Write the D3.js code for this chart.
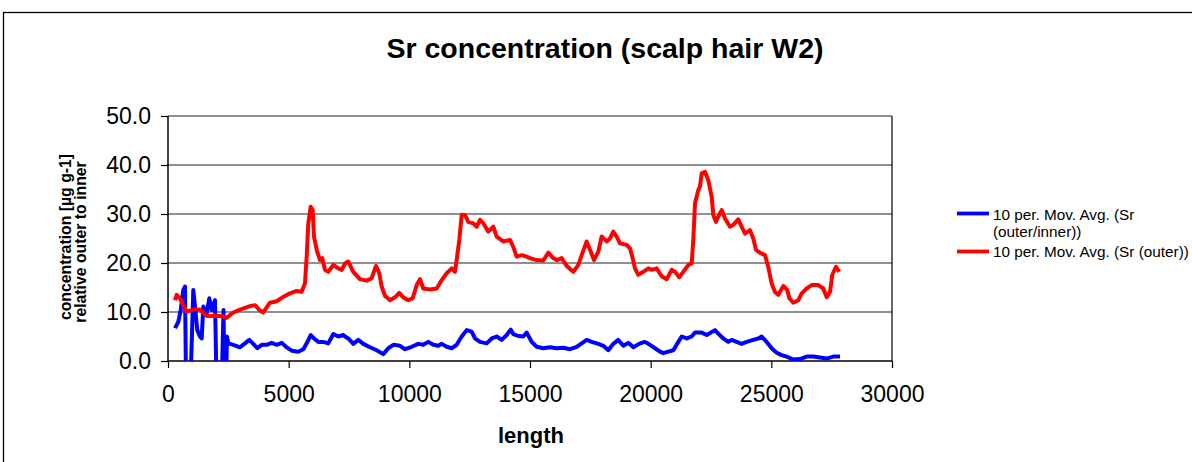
<!DOCTYPE html>
<html>
<head>
<meta charset="utf-8">
<script src="https://cdn.jsdelivr.net/npm/d3@7"></script>
<style>
  body { margin: 0; background: #fff; }
  svg { display: block; font-family: "Liberation Sans", Arial, sans-serif; }
</style>
</head>
<body>
<svg class="chart"></svg>
<script>
// [length, value] pairs
var ratioSeries = [
  [290,6.7],[427,8.0],[526,10.4],[634,14.5],[704,15.2],[760,-10],[900,-10],[1048,14.5],
  [1160,9.0],[1214,6.3],[1326,5.0],[1396,4.6],[1463,11.1],[1604,9.7],[1711,12.8],[1811,10.4],
  [1948,12.4],[2030,-10],[2200,-10],[2300,10.4],[2360,-10],[2400,-10],[2440,5.0],[2499,3.6],
  [2706,3.3],[2983,2.8],[3191,3.6],[3369,4.3],[3534,3.5],[3700,2.6],[3882,3.3],[4090,3.3],
  [4297,3.7],[4504,3.3],[4711,3.7],[4889,2.9],[5126,2.1],[5399,1.9],[5606,2.4],[5747,3.6],
  [5913,5.3],[6050,4.6],[6228,3.9],[6435,3.9],[6642,3.6],[6850,5.5],[7057,5.0],[7264,5.3],
  [7334,5.0],[7471,4.6],[7678,3.5],[7885,4.3],[8093,3.5],[8370,2.8],[8648,2.2],[8921,1.4],
  [9128,2.6],[9336,3.3],[9613,3.1],[9820,2.4],[10098,2.9],[10371,3.5],[10578,3.3],[10786,3.9],
  [10993,3.3],[11200,3.1],[11341,3.5],[11548,2.9],[11755,2.6],[11962,3.3],[12170,5.0],[12377,6.3],
  [12584,6.0],[12721,4.6],[12928,3.9],[13206,3.6],[13413,4.6],[13620,5.0],[13827,4.3],[14035,5.3],
  [14200,6.4],[14308,5.5],[14515,5.1],[14722,5.0],[14863,5.8],[15070,3.9],[15277,2.9],[15551,2.6],
  [15829,2.8],[16106,2.6],[16379,2.7],[16657,2.4],[16934,2.9],[17142,3.6],[17349,4.3],[17556,3.9],
  [17830,3.5],[18038,3.1],[18245,2.2],[18452,3.5],[18659,4.3],[18867,3.1],[19074,3.7],[19281,2.8],
  [19558,3.6],[19765,3.9],[19972,3.3],[20180,2.6],[20387,1.9],[20524,1.6],[20732,1.9],[20939,2.2],
  [21146,3.9],[21287,5.0],[21494,4.6],[21700,5.0],[21837,5.8],[22115,5.8],[22322,5.3],[22666,6.3],
  [22802,5.6],[23009,4.6],[23216,3.9],[23356,4.3],[23563,3.9],[23772,3.5],[23978,3.9],[24253,4.3],
  [24460,4.6],[24599,5.0],[24806,3.9],[25015,2.6],[25222,1.7],[25428,1.2],[25635,0.9],[25911,0.3],
  [26188,0.4],[26466,0.9],[26739,0.9],[27016,0.7],[27294,0.5],[27567,0.9],[27845,0.9]
];

var outerSeries = [
  [290,12.4],[360,13.5],[497,12.8],[634,11.4],[775,10.1],[1048,10.5],[1326,10.5],[1604,9.2],
  [1877,9.2],[2155,9.2],[2432,8.8],[2706,9.9],[2983,10.5],[3398,11.2],[3605,11.4],[3812,10.3],
  [3949,9.9],[4226,11.9],[4504,12.2],[4778,13.1],[5055,13.8],[5333,14.3],[5540,14.1],[5677,15.9],
  [5747,21.3],[5814,28.1],[5913,31.5],[5996,30.8],[6050,25.4],[6162,22.7],[6298,20.6],[6394,21.0],
  [6506,18.6],[6642,18.2],[6850,19.6],[7057,18.9],[7198,18.6],[7334,19.9],[7471,20.3],[7678,18.2],
  [7956,16.7],[8233,16.4],[8441,16.9],[8619,19.4],[8755,17.9],[8855,15.2],[8992,13.3],[9199,12.4],
  [9406,13.0],[9584,13.9],[9750,13.0],[9957,12.4],[10140,12.8],[10305,15.5],[10442,16.7],[10578,14.8],
  [10856,14.6],[11134,14.8],[11341,16.5],[11548,17.9],[11755,18.9],[11892,18.2],[11962,20.6],[12070,24.7],
  [12170,29.8],[12306,29.8],[12443,28.4],[12651,28.1],[12791,27.4],[12928,28.8],[13065,28.1],[13272,26.4],
  [13479,27.4],[13620,25.4],[13893,24.4],[14171,24.7],[14308,23.3],[14449,21.3],[14656,21.6],[14863,21.3],
  [15000,21.0],[15277,20.6],[15551,20.5],[15758,22.1],[15965,21.0],[16106,20.6],[16313,21.0],[16520,19.4],
  [16794,18.2],[17001,19.6],[17142,21.6],[17349,24.4],[17486,22.7],[17652,20.6],[17830,22.3],[17971,25.4],
  [18178,24.4],[18315,25.0],[18452,26.4],[18593,25.4],[18729,24.0],[19007,23.7],[19144,23.0],[19255,21.0],
  [19351,18.9],[19488,17.6],[19696,18.2],[19903,18.9],[20043,18.6],[20250,18.9],[20457,17.3],[20665,16.7],
  [20872,18.6],[21008,18.2],[21187,17.1],[21352,18.2],[21559,19.6],[21700,19.9],[21767,24.7],[21837,32.2],
  [21974,34.9],[22044,35.6],[22115,38.3],[22251,38.6],[22388,36.9],[22529,33.5],[22595,29.8],[22707,28.4],
  [22802,29.5],[22943,30.8],[23080,29.1],[23287,27.4],[23424,27.8],[23631,28.9],[23772,27.4],[23909,26.0],
  [24116,26.7],[24253,25.0],[24365,22.7],[24530,22.1],[24738,21.6],[24874,19.2],[25015,15.8],[25152,14.1],
  [25289,13.5],[25497,15.3],[25662,14.5],[25745,12.8],[25911,11.9],[26118,12.4],[26259,13.8],[26466,14.8],
  [26673,15.5],[26947,15.5],[27154,14.8],[27294,13.0],[27431,14.1],[27527,17.6],[27680,19.2],[27816,18.2]
];

var seriesNames = ['10 per. Mov. Avg. (Sr (outer/inner))', '10 per. Mov. Avg. (Sr (outer))'];
var seriesColors = ['#0000ff', '#ff0000'];
var xTicks = [0, 5000, 10000, 15000, 20000, 25000, 30000];
var yTicks = [0, 10, 20, 30, 40, 50];

var settings = {
  width: 1192,
  height: 462,
  left: 168, right: 892,
  top: 116, bottom: 361
};

var svg = d3.select('.chart')
  .attr('width', settings.width)
  .attr('height', settings.height);

// outer chart frame (runs off the right and bottom edge)
svg.append('rect')
  .attr('x', 3.5).attr('y', 12.5)
  .attr('width', 1300).attr('height', 600)
  .attr('fill', '#fff').attr('stroke', '#000').attr('stroke-width', 1.3);

var x = d3.scaleLinear().domain([0, 30000]).range([settings.left, settings.right]);
var y = d3.scaleLinear().domain([0, 50]).range([settings.bottom, settings.top]);

svg.append('text')
  .attr('x', 605).attr('y', 58)
  .attr('text-anchor', 'middle')
  .attr('font-size', 28.5).attr('font-weight', 'bold')
  .text('Sr concentration (scalp hair W2)');

// gridlines
svg.append('g').selectAll('line')
  .data(yTicks.slice(1))
  .enter().append('line')
  .attr('x1', settings.left).attr('x2', settings.right)
  .attr('y1', function(d) { return y(d); })
  .attr('y2', function(d) { return y(d); })
  .attr('stroke', '#222').attr('stroke-width', 1.2);

// right border of plot area
svg.append('line')
  .attr('x1', settings.right).attr('x2', settings.right)
  .attr('y1', settings.top).attr('y2', settings.bottom)
  .attr('stroke', '#000').attr('stroke-width', 1.2);

var xAxis = d3.axisBottom(x).tickValues(xTicks).tickSize(7).tickPadding(18)
  .tickFormat(d3.format('d'));
var yAxis = d3.axisLeft(y).tickValues(yTicks).tickSize(7).tickPadding(10)
  .tickFormat(d3.format('.1f'));

var gx = svg.append('g')
  .attr('transform', 'translate(0,' + settings.bottom + ')')
  .call(xAxis);
var gy = svg.append('g')
  .attr('transform', 'translate(' + settings.left + ',0)')
  .call(yAxis);

[gx, gy].forEach(function(g) {
  g.select('.domain').attr('stroke', '#000').attr('stroke-width', 1.5);
  g.selectAll('.tick line').attr('stroke', '#000').attr('stroke-width', 1.2);
  g.selectAll('.tick text')
    .attr('fill', '#000')
    .attr('font-size', 23)
    .attr('font-family', '"Liberation Sans", Arial, sans-serif');
});
gx.select('.domain').attr('d', 'M' + settings.left + ',0H' + settings.right);
gy.select('.domain').attr('d', 'M0,' + settings.top + 'V' + settings.bottom);

svg.append('text')
  .attr('x', 531).attr('y', 443)
  .attr('text-anchor', 'middle')
  .attr('font-size', 22).attr('font-weight', 'bold')
  .text('length');

var yTitle = svg.append('text')
  .attr('transform', 'translate(0,0) rotate(-90)')
  .attr('text-anchor', 'middle')
  .attr('font-size', 15.8).attr('font-weight', 'bold');
yTitle.append('tspan').attr('x', -237).attr('y', 71).text('concentration [µg g-1]');
yTitle.append('tspan').attr('x', -242).attr('y', 86).text('relative outer to inner');

// data lines, clipped to plot area
svg.append('clipPath').attr('id', 'plotclip')
  .append('rect')
  .attr('x', settings.left).attr('y', settings.top - 5)
  .attr('width', settings.right - settings.left)
  .attr('height', settings.bottom - settings.top + 5);

var line = d3.line()
  .x(function(d) { return x(d[0]); })
  .y(function(d) { return y(d[1]); });

var plot = svg.append('g').attr('clip-path', 'url(#plotclip)');
[ratioSeries, outerSeries].forEach(function(s, i) {
  plot.append('path')
    .datum(s)
    .attr('d', line)
    .attr('fill', 'none')
    .attr('stroke', seriesColors[i])
    .attr('stroke-width', 4)
    .attr('stroke-linejoin', 'round');
});

// legend
var legendRows = [
  { color: seriesColors[0], lineY: 213.5, lines: ['10 per. Mov. Avg. (Sr', '(outer/inner))'], textY: 219.5 },
  { color: seriesColors[1], lineY: 251.5, lines: [seriesNames[1]], textY: 257 }
];
var legend = svg.append('g');
legendRows.forEach(function(r) {
  legend.append('line')
    .attr('x1', 957).attr('x2', 989)
    .attr('y1', r.lineY).attr('y2', r.lineY)
    .attr('stroke', r.color).attr('stroke-width', 3.8);
  var t = legend.append('text')
    .attr('font-size', 15.3)
    .attr('fill', '#000');
  r.lines.forEach(function(s, j) {
    t.append('tspan').attr('x', 993).attr('y', r.textY + j * 17.5).text(s);
  });
});
</script>
</body>
</html>
